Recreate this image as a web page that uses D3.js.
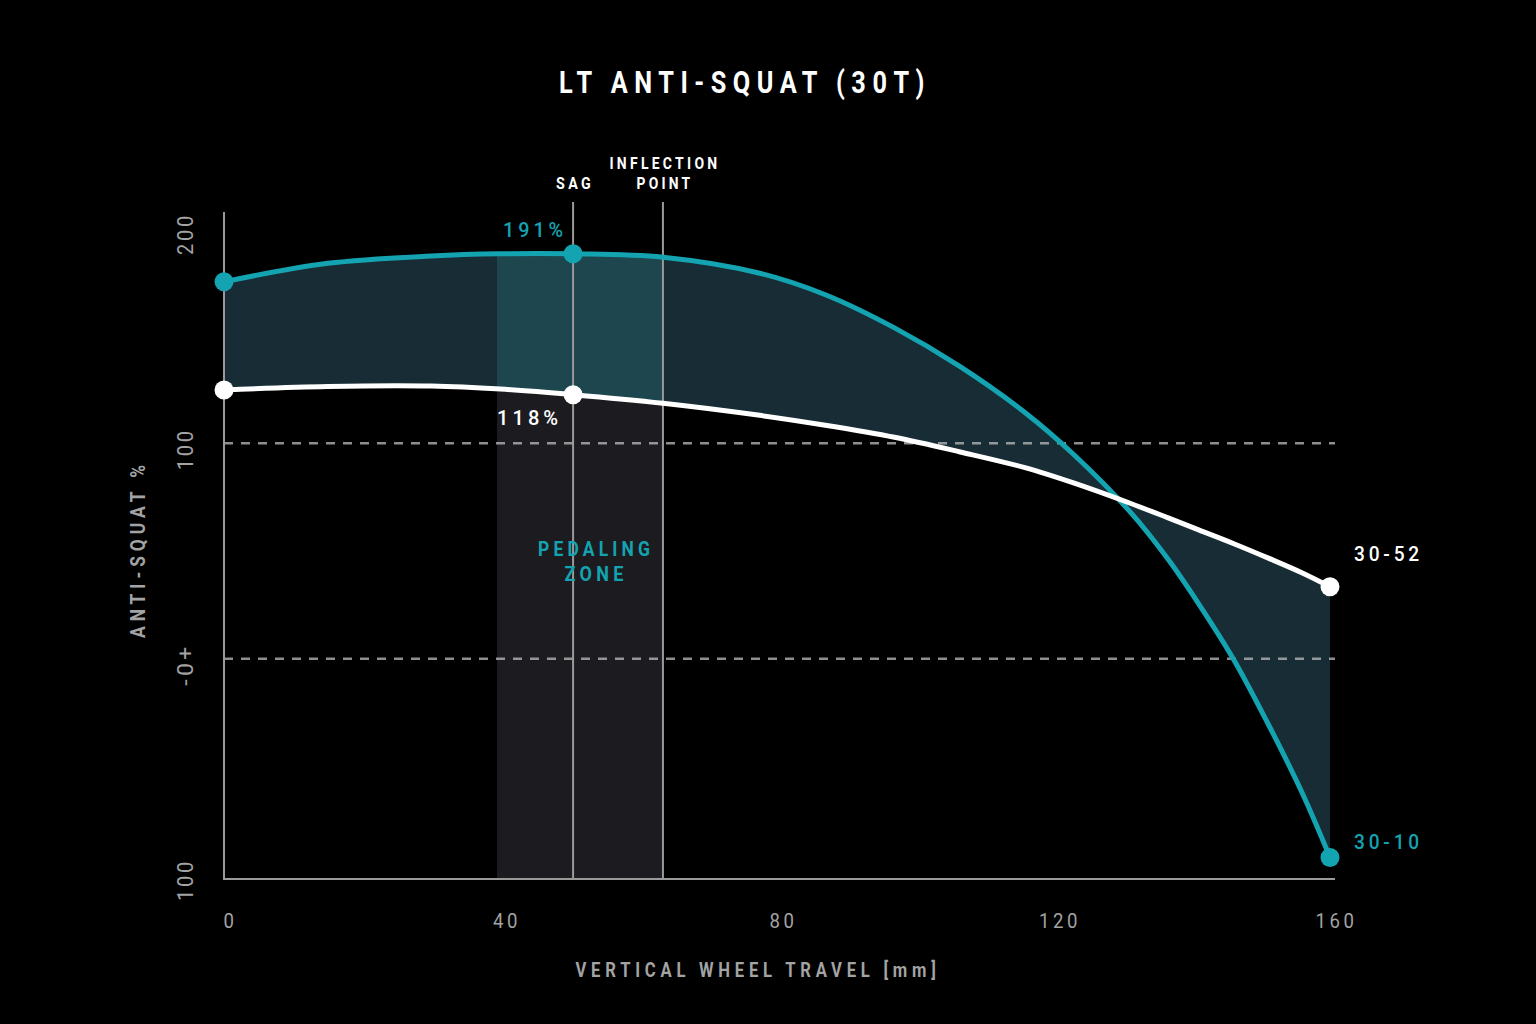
<!DOCTYPE html>
<html>
<head>
<meta charset="utf-8">
<script src="https://cdn.jsdelivr.net/npm/d3@7"></script>
<style>
  html, body { margin: 0; padding: 0; background: #000; }
  svg { display: block; }
  text { font-family: Roboto, "DejaVu Sans", sans-serif; }
</style>
</head>
<body>
<svg id="chart" width="1536" height="1024"></svg>
<script>
// travel in mm, anti-squat in %
var travel   = [0, 15, 30, 40, 50.5, 63.5, 77.5, 87, 97, 106.5, 116, 123, 131, 136.5, 141, 146, 151, 156, 160];
var gear3010 = [175, 183.6, 187, 188, 188, 186.4, 179, 169, 153.6, 135.6, 114, 94.6, 68.5, 46.5, 25.5, 0, -30, -62.5, -92.3];
var gear3052 = [124.8, 126.4, 126.6, 125.2, 122.6, 118.6, 113, 108.4, 102.8, 96, 88.6, 81.5, 72.3, 65.5, 59.8, 53.5, 46.8, 39.8, 33.4];

var xTicks = [0, 40, 80, 120, 160];
var yTicks = [-100, 0, 100, 200];
var yTickLabels = { "-100": "100", "0": "-0+", "100": "100", "200": "200" };
var gridValues = [0, 100];

var sagTravel = 50.5;
var inflectionTravel = 63.5;
var zoneStart = 39.5;
var dotIndex = [0, 4, travel.length - 1];

var teal = "#14a3b1";
var grey = "#a3a3a3";

var data = travel.map(function (t, i) {
    return { t: t, a: gear3010[i], b: gear3052[i] };
});

var svg = d3.select("#chart");

var x = d3.scaleLinear().domain([0, 160]).range([224, 1330]);
var y = d3.scaleLinear().domain([-100, 200]).range([874, 228]);

var axisBottomY = 879;

// pedaling zone clip
svg.append("defs").append("clipPath").attr("id", "zoneClip")
    .append("rect")
    .attr("x", x(zoneStart))
    .attr("y", 0)
    .attr("width", x(inflectionTravel) - x(zoneStart))
    .attr("height", 1024);

var curve = d3.curveCatmullRom.alpha(0.5);

// grey zone below the white line
svg.append("path")
    .datum(data)
    .attr("clip-path", "url(#zoneClip)")
    .attr("fill", "#1c1c20")
    .attr("d", d3.area().curve(curve)
        .x(function (d) { return x(d.t); })
        .y0(axisBottomY)
        .y1(function (d) { return y(d.b); }));

var band = d3.area().curve(curve)
    .x(function (d) { return x(d.t); })
    .y0(function (d) { return y(d.b); })
    .y1(function (d) { return y(d.a); });

svg.append("path").datum(data).attr("fill", "#172c34").attr("d", band);
svg.append("path").datum(data)
    .attr("clip-path", "url(#zoneClip)")
    .attr("fill", "#1d464e")
    .attr("d", band);

// dashed grid lines
svg.selectAll(".grid")
    .data(gridValues)
    .enter()
    .append("line")
    .attr("class", "grid")
    .attr("x1", x(0))
    .attr("x2", 1335)
    .attr("y1", function (d) { return y(d); })
    .attr("y2", function (d) { return y(d); })
    .attr("stroke", "#bdbdbd")
    .attr("stroke-opacity", 0.75)
    .attr("stroke-width", 2.5)
    .attr("stroke-dasharray", "9 8");

// axis lines + markers
function vline(xv, top) {
    svg.append("line")
        .attr("x1", x(xv)).attr("x2", x(xv))
        .attr("y1", top).attr("y2", axisBottomY)
        .attr("stroke", "#9a9a9a")
        .attr("stroke-width", 2);
}
vline(0, 212);
vline(sagTravel, 202);
vline(inflectionTravel, 202);

svg.append("line")
    .attr("x1", x(0) - 1).attr("x2", 1335)
    .attr("y1", axisBottomY).attr("y2", axisBottomY)
    .attr("stroke", "#9a9a9a")
    .attr("stroke-width", 2);

// curves
function drawLine(key, color) {
    svg.append("path")
        .datum(data)
        .attr("fill", "none")
        .attr("stroke", color)
        .attr("stroke-width", 5)
        .attr("d", d3.line().curve(curve)
            .x(function (d) { return x(d.t); })
            .y(function (d) { return y(d[key]); }));

    svg.selectAll(".dot-" + key)
        .data(dotIndex.map(function (i) { return data[i]; }))
        .enter()
        .append("circle")
        .attr("class", "dot-" + key)
        .attr("cx", function (d) { return x(d.t); })
        .attr("cy", function (d) { return y(d[key]); })
        .attr("r", 9.5)
        .attr("fill", color);
}
drawLine("a", teal);
drawLine("b", "#ffffff");

// text helper -- squeeze glyphs a bit to get the condensed look
function label(txt, px, py, o) {
    var t = svg.append("text")
        .attr("x", px)
        .attr("y", py)
        .attr("fill", o.fill || grey)
        .attr("font-size", o.size || 20)
        .attr("font-weight", o.weight || "normal")
        .attr("text-anchor", o.anchor || "start")
        .attr("letter-spacing", o.ls || 0)
        .text(txt);
    if (o.len) t.attr("textLength", o.len).attr("lengthAdjust", "spacingAndGlyphs");
    if (o.rotate) t.attr("transform", "rotate(-90," + px + "," + py + ")");
    return t;
}

// title
label("LT ANTI-SQUAT (30T)", 745, 93, { fill: "#fff", size: 31, weight: "bold", anchor: "middle", len: 372, ls: 8 });

// marker labels
label("SAG", x(sagTravel) + 2, 189, { fill: "#fff", size: 17, weight: "bold", anchor: "middle", len: 38, ls: 4 });
label("INFLECTION", x(inflectionTravel) + 2, 169, { fill: "#fff", size: 17, weight: "bold", anchor: "middle", len: 111, ls: 4 });
label("POINT", x(inflectionTravel) + 2, 189, { fill: "#fff", size: 17, weight: "bold", anchor: "middle", len: 57, ls: 4 });

label("PEDALING", x(sagTravel) + 23, 556, { fill: teal, size: 21, weight: "bold", anchor: "middle", len: 116, ls: 5 });
label("ZONE", x(sagTravel) + 23, 581, { fill: teal, size: 21, weight: "bold", anchor: "middle", len: 63, ls: 5 });

// value labels next to the sag dots
var sag = data[4];
label("191%", x(sag.t) - 70, y(sag.a) - 17, { fill: teal, size: 20, weight: 500, len: 64, ls: 4 });
label("118%", x(sag.t) - 76, y(sag.b) + 30, { fill: "#fff", size: 20, weight: 500, len: 65, ls: 4 });

var end = data[data.length - 1];
label("30-52", x(end.t) + 24, y(end.b) - 26, { fill: "#fff", size: 20, weight: 500, len: 69, ls: 4 });
label("30-10", x(end.t) + 24, y(end.a) - 8, { fill: teal, size: 20, weight: 500, len: 69, ls: 4 });

// x axis
var xAxis = svg.append("g")
    .attr("transform", "translate(6," + axisBottomY + ")")
    .call(d3.axisBottom(x).tickValues(xTicks).tickSize(0).tickPadding(0));
xAxis.select(".domain").remove();
xAxis.selectAll("text")
    .attr("y", 49)
    .attr("dy", 0)
    .attr("fill", grey)
    .attr("font-size", 21)
    .attr("letter-spacing", 4)
    .attr("lengthAdjust", "spacingAndGlyphs")
    .attr("textLength", function (d) { return String(d).length * 14; })
    .style("font-family", null);

// y axis (rotated labels)
svg.selectAll(".ytick")
    .data(yTicks)
    .enter()
    .append("text")
    .attr("class", "ytick")
    .attr("transform", function (d) { return "translate(193," + (y(d) + 6) + ") rotate(-90)"; })
    .attr("text-anchor", "middle")
    .attr("fill", grey)
    .attr("font-size", 22)
    .attr("letter-spacing", 3)
    .attr("lengthAdjust", "spacingAndGlyphs")
    .attr("textLength", function (d) { return yTickLabels[d].length * 14; })
    .text(function (d) { return yTickLabels[d]; });

label("ANTI-SQUAT %", 145, 549, { size: 21, weight: "bold", anchor: "middle", len: 178, ls: 6, rotate: true });
label("VERTICAL WHEEL TRAVEL [mm]", 758, 977, { size: 21, weight: "bold", anchor: "middle", len: 365, ls: 6 });
</script>
</body>
</html>
